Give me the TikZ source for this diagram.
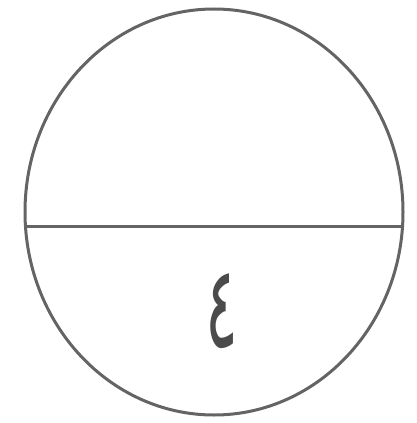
\documentclass[tikz,border=0pt]{standalone}
\usepackage{fontspec}
\usepackage{graphicx}
\newfontfamily\arabicfont[Script=Arabic]{DejaVu Sans}
\TeXXeTstate=1
\usetikzlibrary{shapes.geometric}
\definecolor{ink}{RGB}{100,100,100}
\definecolor{glyph}{RGB}{75,75,75}
\tikzset{outline/.style={draw=ink,line width=3pt},
  divider/.style={draw=ink,line width=3pt}}
\begin{document}
\begin{tikzpicture}[x=1pt,y=-1pt]
\useasboundingbox (0,0) rectangle (416,423);
\node[outline,ellipse,inner sep=0pt,minimum width=378pt,minimum height=406pt] (circ) at (214,212) {};
\coordinate (l) at (25.5,226);
\coordinate (r) at (402.5,226);
\draw[divider] (l) -- (r);
\node[text=glyph,inner sep=0pt] (four) at (222,311) {\scalebox{0.85}[1.6]{\fontsize{72}{80}\selectfont\arabicfont\beginR ٤\endR}};
\end{tikzpicture}
\end{document}
